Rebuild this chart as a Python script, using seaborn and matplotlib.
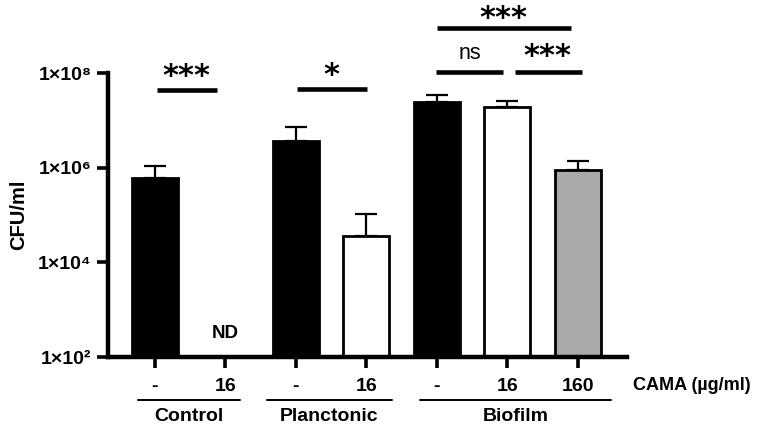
import numpy as np
import pandas as pd
import matplotlib
matplotlib.use("Agg")
import matplotlib.pyplot as plt
import seaborn as sns

# --- data ---
groups = ["Control", "Control", "Planctonic", "Planctonic", "Biofilm", "Biofilm", "Biofilm"]
doses = ["-", "16", "-", "16", "-", "16", "160"]
cfu_mean = [6.0e5, np.nan, 3.6e6, 3.6e4, 2.4e7, 1.94e7, 8.9e5]
cfu_upper = [1.08e6, np.nan, 7.2e6, 1.07e5, 3.4e7, 2.6e7, 1.38e6]
bar_colors = ["black", "white", "black", "white", "black", "white", "#a9a9a9"]
y_ticks = [1e2, 1e4, 1e6, 1e8]
y_tick_labels = ["1×10²", "1×10⁴", "1×10⁶", "1×10⁸"]
group_names = ["Control", "Planctonic", "Biofilm"]
sig_labels = ["***", "*", "ns", "***", "***"]

sns.set_style("ticks")
plt.rcParams["font.family"] = ["Liberation Sans", "DejaVu Sans"]
plt.rcParams["font.weight"] = "bold"
for key in ["text.color", "axes.labelcolor", "xtick.color", "ytick.color"]:
    plt.rcParams[key] = "black"

df = pd.DataFrame({"bar": [f"{g} {d}" for g, d in zip(groups, doses)],
                   "cfu": cfu_mean})
order = list(df["bar"])

fig = plt.figure(figsize=(7.58, 4.29), dpi=100)
ax = fig.add_axes([108 / 758, 1 - 357 / 429, (627 - 108) / 758, (357 - 73) / 429])

sns.barplot(data=df, x="bar", y="cfu", hue="bar", order=order, hue_order=order,
            palette=dict(zip(order, bar_colors)), legend=False, errorbar=None,
            width=0.65, edgecolor="black", linewidth=2, saturation=1, ax=ax)

xs = np.arange(len(order))
mean = np.array(cfu_mean)
err_up = np.array(cfu_upper) - mean
ax.errorbar(xs, mean, yerr=[np.zeros_like(mean), err_up], fmt="none",
            ecolor="black", elinewidth=1.6, capsize=8, capthick=1.6, zorder=0)

ax.set_yscale("log")
ax.set_ylim(1e2, 1e8)
ax.set_xlim(-0.667, 6.70)
ax.minorticks_off()
ax.set_yticks(y_ticks)
ax.set_yticklabels(y_tick_labels, fontsize=14, fontweight="bold")
ax.set_xticks(xs)
ax.set_xticklabels(doses, fontsize=14, fontweight="bold")
ax.tick_params(axis="both", length=8, width=2.6, color="black", pad=4)
ax.tick_params(axis="x", pad=7)
ax.set_xlabel("")
ax.set_ylabel("CFU/ml", fontsize=14.5, fontweight="bold", labelpad=7)
sns.despine(ax=ax)
for side in ["left", "bottom"]:
    ax.spines[side].set_linewidth(3.2)
    ax.spines[side].set_color("black")

# ND marker for the empty bar
ax.text(1, 2.1e2, "ND", ha="center", va="bottom", fontsize=13.5, fontweight="bold")

# significance bars (x in bar units, y in log data units)
sig_lines = [(0.03, 0.88, 4.4e7), (2.01, 3.01, 4.6e7), (3.99, 4.94, 1.05e8),
             (5.11, 6.06, 1.05e8), (4.00, 5.91, 8.9e8)]
sig_text_pos = [(0.45, 8.3e7), (2.51, 9.0e7), (4.47, 2.6e8), (5.57, 2.2e8), (4.95, 1.45e9)]
for (x0, x1, y), (tx, ty), lab in zip(sig_lines, sig_text_pos, sig_labels):
    ax.plot([x0, x1], [y, y], color="black", lw=3.3, clip_on=False, solid_capstyle="butt")
    if lab == "ns":
        ax.text(tx, ty, lab, ha="center", va="center", fontsize=15.5, fontweight="normal")
    else:
        ax.text(tx, ty, lab, ha="center", va="center", fontsize=22,
                family="DejaVu Sans", fontweight="bold")

# group underlines and labels below the axis
trans = ax.get_xaxis_transform()
spans = [(-0.24, 1.21), (1.59, 3.36), (3.76, 6.47)]
for (x0, x1), name in zip(spans, group_names):
    ax.plot([x0, x1], [-0.151, -0.151], color="black", lw=1.4, transform=trans, clip_on=False)
    ax.text((x0 + x1) / 2, -0.211, name, transform=trans, ha="center", va="center",
            fontsize=14, fontweight="bold")
ax.text(6.78, -0.099, "CAMA (µg/ml)", transform=trans, ha="left", va="center",
        fontsize=13, fontweight="bold")

fig.savefig("out.png", dpi=100)
